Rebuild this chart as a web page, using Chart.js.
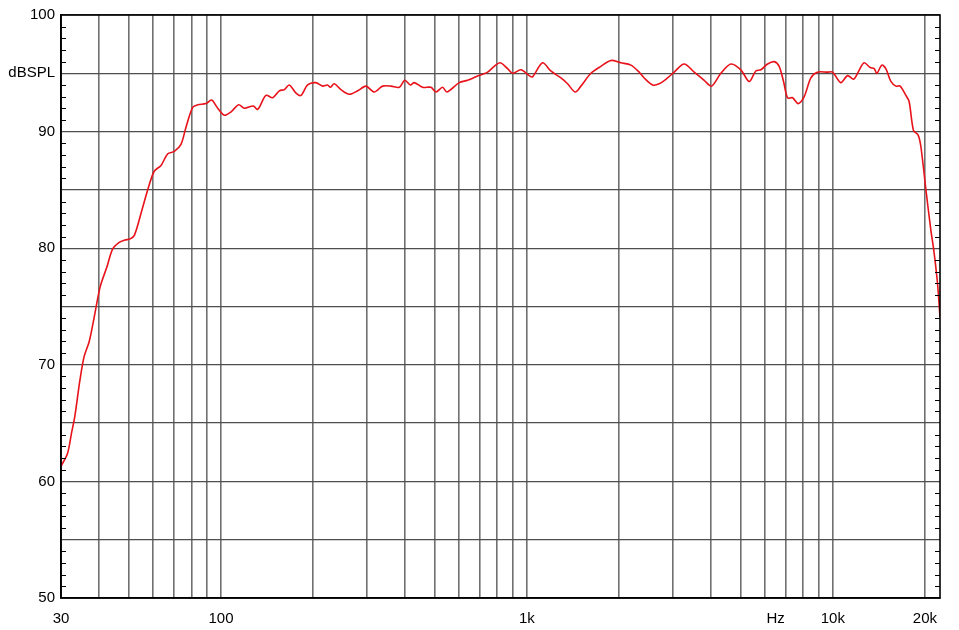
<!DOCTYPE html>
<html>
<head>
<meta charset="utf-8">
<script src="https://cdn.jsdelivr.net/npm/chart.js@4.4.1/dist/chart.umd.min.js"></script>
<style>
  html, body { margin: 0; padding: 0; background: #fff; }
  #wrap { width: 959px; height: 630px; position: relative; }
</style>
</head>
<body>
<div id="wrap"><canvas id="c"></canvas></div>
<script>
// Frequency (Hz) and SPL (dB)
const freqs = [30, 31.5, 32.5, 33.3, 34.6, 35.7, 37.1, 38.4, 40.3, 42.4, 44.2, 46.5, 48.5, 50.5, 52.1,
  54.8, 57.6, 60.5, 63.7, 67.0, 70.4, 74.0, 76.9, 80.9, 84.0, 89.3, 93.2, 97.6, 102.6, 107.9, 114.3,
  119.2, 127.6, 131.8, 140.3, 147.6, 155.2, 161.1, 167.2, 175.9, 182.6, 191.9, 204, 215, 223, 228,
  234.6, 246.7, 262.6, 279.8, 297.7, 317, 337.6, 359.5, 382.7, 399, 415.6, 428.4, 456, 485.7, 504.5,
  530, 547.9, 600.7, 640, 681, 744, 781.8, 818, 864.9, 897.5, 955.9, 1017, 1043.8, 1125, 1197, 1292,
  1358, 1438, 1501, 1619, 1745, 1882, 2028, 2187, 2328, 2417, 2576, 2706, 2882, 3030, 3266, 3522,
  3797, 4015, 4305, 4642, 5003, 5328, 5601, 5818, 6119, 6430, 6676, 6900, 7112, 7385, 7701, 8060,
  8475, 8896, 9608, 9979, 10620, 11170, 11690, 12100, 12650, 13240, 13650, 13930, 14460, 14900,
  15480, 16070, 16600, 17330, 17750, 18350, 19000, 19400, 20150, 20900, 21430, 21980, 22400];
const spl = [61.3, 62.4, 64.2, 65.6, 68.7, 70.7, 72.0, 73.9, 76.7, 78.4, 79.9, 80.5, 80.7, 80.8, 81.1,
  83.0, 85.0, 86.6, 87.1, 88.1, 88.3, 88.9, 90.4, 92.1, 92.3, 92.4, 92.7, 92.0, 91.4, 91.7, 92.3,
  92.0, 92.2, 91.9, 93.1, 92.9, 93.5, 93.6, 94.0, 93.3, 93.1, 94.0, 94.2, 93.9, 94.0, 93.8,
  94.1, 93.6, 93.2, 93.5, 93.9, 93.4, 93.9, 93.9, 93.8, 94.4, 94.0, 94.2, 93.8, 93.8, 93.4,
  93.8, 93.4, 94.2, 94.4, 94.7, 95.1, 95.6, 95.9, 95.4, 95.0, 95.3, 94.8, 94.7, 95.9, 95.2, 94.6,
  94.1, 93.4, 93.9, 95.0, 95.6, 96.1, 95.9, 95.7, 95.1, 94.6, 94.0, 94.1, 94.6, 95.1, 95.8, 95.1,
  94.4, 93.9, 95.0, 95.8, 95.3, 94.3, 95.2, 95.3, 95.8, 96.0, 95.6, 94.3, 92.9, 92.9, 92.4, 93.0,
  94.6, 95.1, 95.1, 95.1, 94.2, 94.8, 94.5, 95.1, 95.9, 95.5, 95.4, 95.0, 95.7, 95.4,
  94.3, 93.9, 93.9, 93.1, 92.6, 90.1, 89.7, 88.7, 85.0, 81.6, 79.6, 77.0, 74.1];

// Axis ticks / labels
const xGridValues = [30, 40, 50, 60, 70, 80, 90, 100, 200, 300, 400, 500, 600, 700, 800, 900,
  1000, 2000, 3000, 4000, 5000, 6000, 7000, 8000, 9000, 10000, 20000];
const xLabelValues = [30, 100, 1000, 6500, 10000, 20000];
const xLabelTexts = ['30', '100', '1k', 'Hz', '10k', '20k'];
const yLabelValues = [50, 60, 70, 80, 90, 95, 100];
const yLabelTexts = ['50', '60', '70', '80', '90', 'dBSPL', '100'];
const xMin = 30, xMax = 22400, yMin = 50, yMax = 100;

const points = freqs.map((f, i) => ({ x: f, y: spl[i] }));

const framePlugin = {
  id: 'frame',
  afterDraw(chart) {
    const { ctx, chartArea: a, scales } = chart;
    const y = scales.y;
    ctx.save();
    ctx.strokeStyle = '#000';
    ctx.lineWidth = 1;
    for (let v = yMin + 1; v < yMax; v++) {
      if (v % 5 === 0) continue;
      const py = Math.round(y.getPixelForValue(v)) + 0.5;
      ctx.beginPath();
      ctx.moveTo(a.left, py); ctx.lineTo(a.left + 5, py);
      ctx.moveTo(a.right, py); ctx.lineTo(a.right - 5, py);
      ctx.stroke();
    }
    ctx.lineWidth = 1.6;
    ctx.strokeRect(a.left, a.top, a.right - a.left, a.bottom - a.top);
    ctx.restore();
  }
};

new Chart(document.getElementById('c'), {
  type: 'line',
  data: {
    datasets: [{
      data: points,
      borderColor: '#e8121a',
      borderWidth: 1.6,
      pointRadius: 0,
      tension: 0.3,
      fill: false
    }]
  },
  options: {
    responsive: true,
    maintainAspectRatio: false,
    animation: false,
    layout: { padding: { top: 15, right: 19, left: 0, bottom: 0 } },
    plugins: { legend: { display: false }, tooltip: { enabled: false } },
    scales: {
      x: {
        type: 'logarithmic',
        min: xMin, max: xMax,
        afterBuildTicks(scale) {
          const vals = xGridValues.concat([6500]).sort((a, b) => a - b);
          scale.ticks = vals.map(v => ({ value: v }));
        },
        afterFit(scale) { scale.height = 32; },
        ticks: {
          autoSkip: false, maxRotation: 0, minRotation: 0, padding: 12,
          color: '#000',
          font: { family: '"Liberation Sans", Arial, sans-serif', size: 15 },
          callback(value) {
            const i = xLabelValues.indexOf(value);
            return i >= 0 ? xLabelTexts[i] : '';
          }
        },
        grid: {
          drawTicks: false,
          color(ctx) {
            const v = ctx.tick && ctx.tick.value;
            return xGridValues.includes(v) ? '#707070' : 'rgba(0,0,0,0)';
          },
          lineWidth: 1.6
        },
        border: { display: true, color: '#000', width: 1.6 }
      },
      y: {
        type: 'linear',
        min: yMin, max: yMax,
        afterBuildTicks(scale) {
          const vals = [];
          for (let v = yMin; v <= yMax; v += 5) vals.push(v);
          scale.ticks = vals.map(v => ({ value: v }));
        },
        afterFit(scale) { scale.width = 61; },
        ticks: {
          autoSkip: false, padding: 6, color: '#000',
          font: { family: '"Liberation Sans", Arial, sans-serif', size: 15 },
          callback(value) {
            const i = yLabelValues.indexOf(value);
            return i >= 0 ? yLabelTexts[i] : '';
          }
        },
        grid: { drawTicks: false, color: '#4e4e4e', lineWidth: 1.3 },
        border: { display: true, color: '#000', width: 1.6 }
      }
    }
  },
  plugins: [framePlugin]
});
</script>
</body>
</html>
